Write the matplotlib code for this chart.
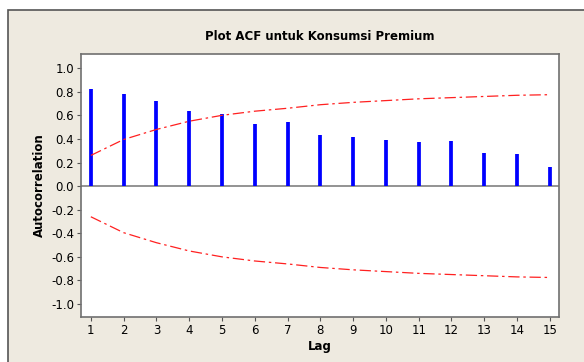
import numpy as np
import matplotlib.pyplot as plt
from matplotlib.patches import Rectangle

lags = list(range(1, 16))
acf = [0.82, 0.78, 0.72, 0.635, 0.61, 0.525, 0.545, 0.43, 0.42, 0.39, 0.37, 0.38, 0.28, 0.27, 0.16]
limit = [0.26, 0.395, 0.48, 0.55, 0.60, 0.635, 0.66, 0.69, 0.71, 0.725, 0.74, 0.75, 0.76, 0.77, 0.775]
yticks = [-1.0, -0.8, -0.6, -0.4, -0.2, 0.0, 0.2, 0.4, 0.6, 0.8, 1.0]

fig = plt.figure(figsize=(5.84, 3.62), dpi=100)
fig.patch.set_facecolor('white')
# beige panel with dark border, like the Minitab graph window
fig.patches.append(Rectangle((8 / 584, -0.05), 1.0, 1 - 10 / 362 + 0.05,
                             transform=fig.transFigure, facecolor='#eeeae0',
                             edgecolor='#555555', linewidth=1.2, zorder=0))

ax = fig.add_axes([81 / 584, 1 - 317 / 362, (559 - 81) / 584, (317 - 54) / 362])
ax.set_zorder(2)
ax.set_facecolor('white')

ax.vlines(lags, 0, acf, color='#0000ff', linewidth=2.7)
ax.axhline(0, color='#808080', linewidth=1.2, zorder=1)
ax.plot(lags, limit, color='#ff2020', linewidth=0.9, dashes=(9, 3, 2, 3))
ax.plot(lags, [-v for v in limit], color='#ff2020', linewidth=0.9, dashes=(9, 3, 2, 3))

ax.set_xlim(0.7, 15.28)
ax.set_ylim(-1.11, 1.12)
ax.set_xticks(lags)
ax.set_yticks(yticks)
ax.set_yticklabels(['%.1f' % v for v in yticks])
ax.tick_params(labelsize=8.5, length=3, color='#555555', pad=2)
for s in ax.spines.values():
    s.set_color('#707070')
    s.set_linewidth(1.2)

ax.set_xlabel('Lag', fontsize=8.5, fontweight='bold', labelpad=2)
ax.set_ylabel('Autocorrelation', fontsize=8.5, fontweight='bold', labelpad=4)
t = fig.text(0.5 * (81 + 559) / 584, 1 - 36 / 362, 'Plot ACF untuk Konsumsi Premium',
             ha='center', va='center', fontsize=8.5, fontweight='bold')
t.set_zorder(3)

fig.savefig('out.png', dpi=100, facecolor=fig.get_facecolor())
